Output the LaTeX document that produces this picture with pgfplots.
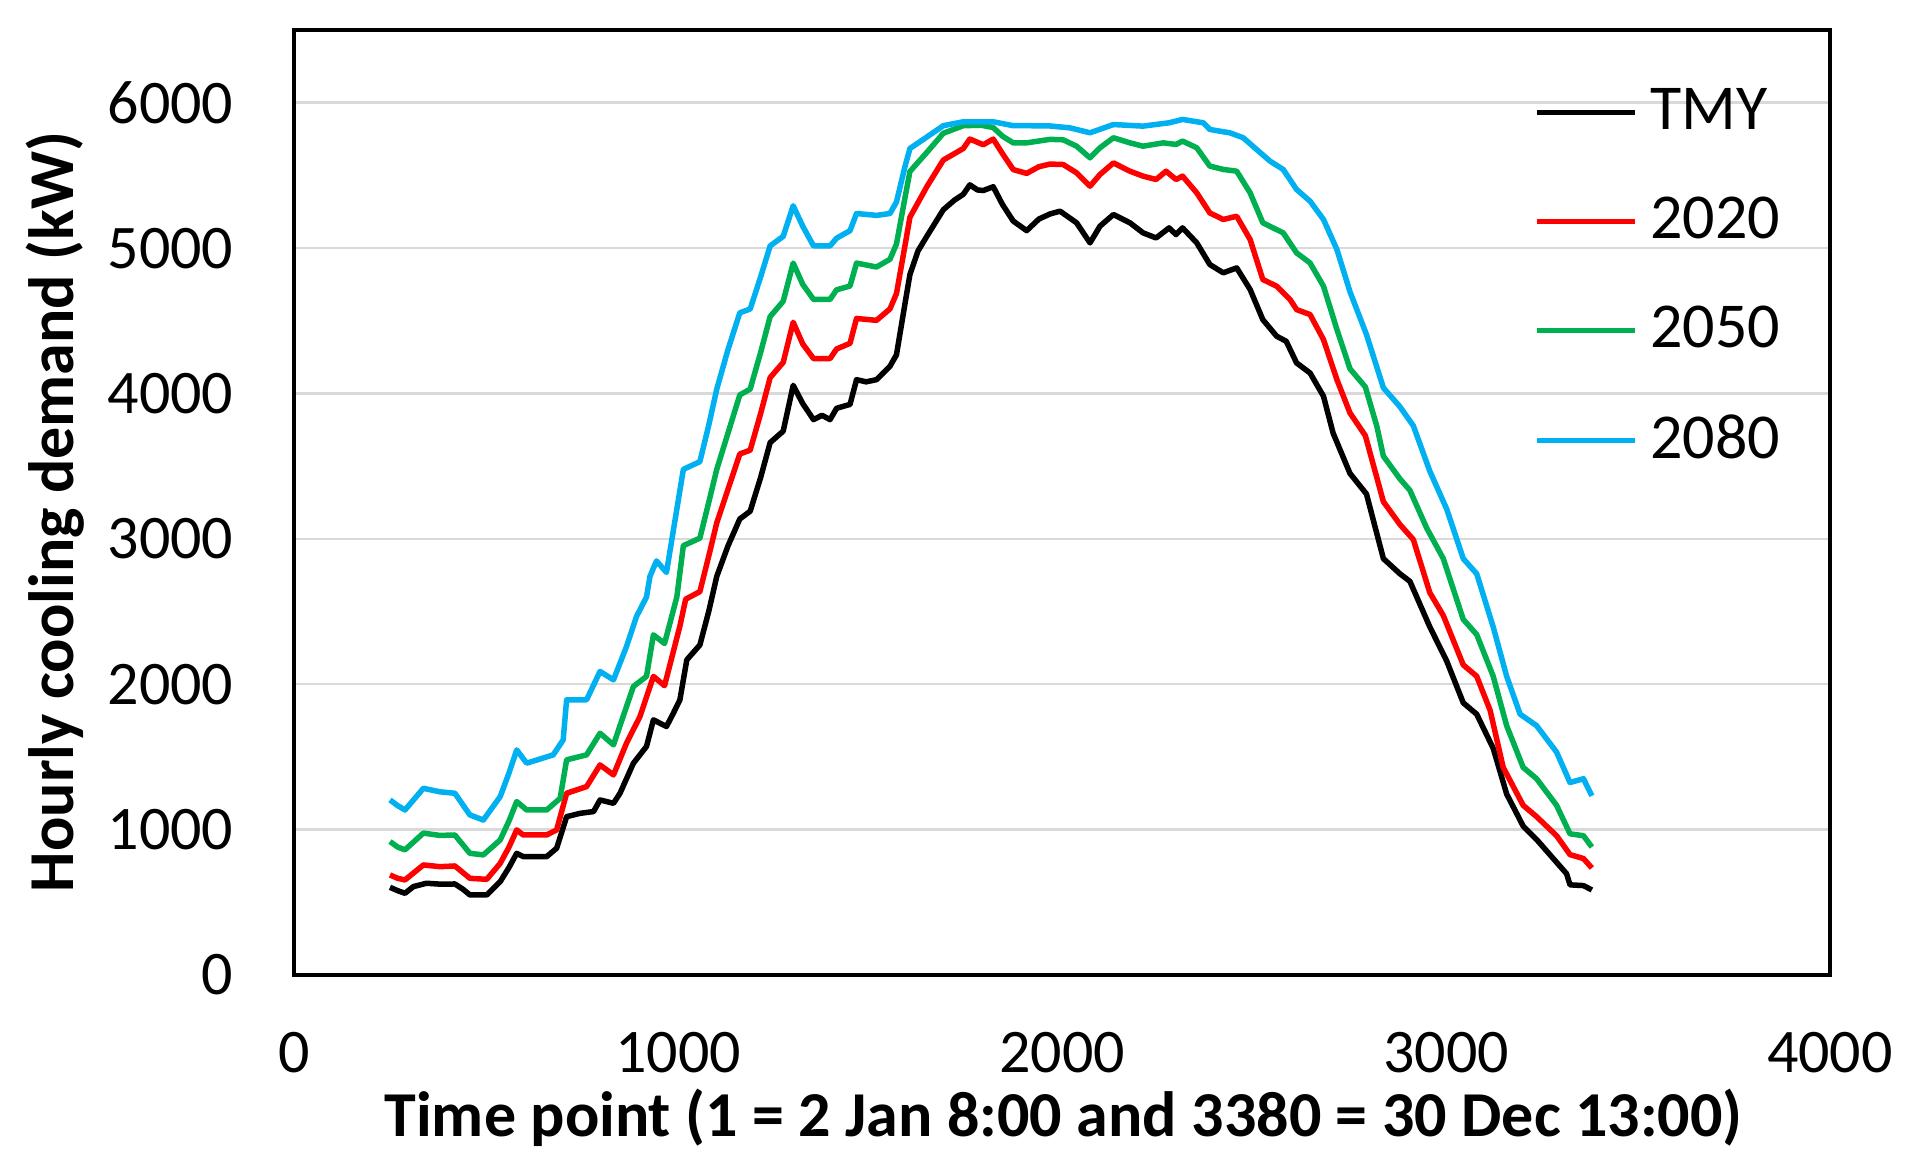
\documentclass[border=0pt]{standalone}
\usepackage{pgfplots}
\pgfplotsset{compat=1.18}
\usepackage{fontspec}
\setmainfont{Carlito}
\definecolor{cblue}{HTML}{00B0F0}
\definecolor{cgreen}{HTML}{00B050}
\definecolor{cred}{HTML}{FF0000}
\definecolor{cgrid}{HTML}{D9D9D9}
\begin{document}
\begin{tikzpicture}
\useasboundingbox (0,0) rectangle (381.4pt,233.2pt);
\begin{axis}[
  at={(58.8pt,38.2pt)}, anchor=south west,
  scale only axis, width=307.2pt, height=189pt,
  xmin=0, xmax=4000, ymin=0, ymax=6500,
  xtick={0,1000,2000,3000,4000},
  ytick={0,1000,2000,3000,4000,5000,6000},
  major tick length=0pt,
  ymajorgrids, grid style={cgrid, line width=0.5pt},
  axis line style={black, line width=0.9pt},
  /pgf/number format/assume math mode=true,
  /pgf/number format/1000 sep={},
  ticklabel style={font=\fontsize{12.4}{14}\selectfont},
  xticklabel style={yshift=-8pt},
  yticklabel style={xshift=-8.6pt},
  xlabel={\textbf{Time point (1 = 2 Jan 8:00 and 3380 = 30 Dec 13:00)}},
  ylabel={\textbf{Hourly cooling demand (kW)}},
  label style={font=\fontsize{12.8}{14}\selectfont},
  xlabel style={at={(axis description cs:0.501,-0.151)}, anchor=center},
  ylabel style={at={(axis description cs:-0.1556,0.49)}, anchor=center},
  legend style={draw=none, fill=none, inner sep=0pt,
    font=\fontsize{12.8}{14}\selectfont, row sep=8pt, column sep=0.5pt,
    at={(axis description cs:0.807,0.95)}, anchor=north west},
  legend cell align=left,
  legend image code/.code={\draw[#1] (0pt,0pt) -- (19.6pt,0pt);},
  every axis plot/.append style={line width=1.1pt, line join=round},
]
\addplot[black] coordinates {
(250,603)(270,580)(289,562)(311,608)(345,631)(380,625)(419,626)(440,590)(458,551)(502,551)
(537,642)(560,740)(580,837)(597,814)(658,814)(684,872)(710,1089)(745,1112)(780,1124)
(797,1204)(832,1181)(849,1250)(884,1457)(918,1572)(936,1755)(970,1709)(988,1801)
(1005,1893)(1023,2168)(1057,2270)(1080,2500)(1101,2742)(1130,2950)(1161,3137)(1188,3190)
(1215,3420)(1240,3662)(1274,3741)(1300,4056)(1325,3930)(1353,3820)(1375,3850)(1396,3820)
(1413,3898)(1448,3925)(1465,4095)(1490,4080)(1517,4095)(1552,4187)(1569,4266)(1590,4600)
(1604,4818)(1625,4980)(1648,5081)(1691,5264)(1720,5330)(1743,5370)(1760,5435)(1780,5400)
(1795,5396)(1821,5422)(1845,5300)(1873,5186)(1908,5120)(1940,5200)(1969,5235)(1995,5254)
(2038,5174)(2073,5036)(2099,5151)(2134,5231)(2177,5174)(2211,5105)(2245,5070)(2279,5139)
(2297,5093)(2314,5139)(2351,5036)(2385,4887)(2420,4830)(2455,4864)(2490,4715)(2523,4508)
(2559,4394)(2584,4359)(2611,4210)(2646,4141)(2681,3981)(2706,3728)(2750,3450)(2793,3308)
(2837,2864)(2880,2760)(2906,2708)(2958,2394)(3002,2159)(3045,1872)(3080,1794)(3123,1559)
(3158,1245)(3201,1024)(3236,932)(3288,775)(3314,697)(3323,620)(3358,615)(3380,585)
};
\addlegendentry{TMY}
\addplot[cred] coordinates {
(250,688)(270,665)(289,654)(337,757)(380,745)(419,750)(458,665)(502,658)(537,768)
(560,880)(580,998)(597,963)(658,963)(684,998)(710,1250)(762,1296)(797,1445)(832,1376)
(866,1595)(901,1778)(936,2054)(965,1990)(1005,2400)(1020,2585)(1057,2637)(1080,2880)
(1101,3110)(1161,3584)(1188,3610)(1215,3860)(1240,4109)(1274,4214)(1300,4490)(1325,4340)
(1353,4240)(1396,4240)(1413,4306)(1448,4345)(1465,4516)(1517,4503)(1552,4582)(1569,4687)
(1590,5000)(1604,5212)(1648,5422)(1691,5606)(1743,5685)(1760,5750)(1795,5711)(1821,5750)
(1845,5650)(1873,5540)(1908,5514)(1940,5560)(1969,5578)(2003,5575)(2038,5518)(2073,5426)
(2099,5506)(2134,5586)(2177,5529)(2211,5495)(2245,5472)(2271,5529)(2297,5472)(2314,5495)
(2351,5380)(2385,5242)(2420,5197)(2455,5219)(2490,5059)(2523,4784)(2559,4738)(2594,4646)
(2611,4577)(2646,4543)(2681,4371)(2716,4095)(2750,3866)(2790,3710)(2837,3256)(2880,3099)
(2915,2995)(2958,2629)(2993,2473)(3045,2133)(3080,2055)(3115,1820)(3149,1428)(3201,1167)
(3236,1089)(3288,958)(3323,828)(3358,801)(3380,736)
};
\addlegendentry{2020}
\addplot[cgreen] coordinates {
(250,918)(270,880)(289,861)(337,976)(380,960)(419,963)(458,837)(493,826)(537,929)
(560,1060)(580,1193)(606,1135)(658,1135)(693,1215)(710,1480)(762,1514)(797,1663)(832,1583)
(866,1847)(884,1985)(918,2054)(936,2340)(965,2280)(997,2600)(1014,2953)(1057,3005)
(1080,3250)(1101,3478)(1161,3990)(1188,4030)(1215,4280)(1240,4529)(1274,4634)(1300,4897)
(1325,4750)(1353,4647)(1396,4647)(1413,4713)(1448,4739)(1465,4897)(1517,4870)(1552,4923)
(1569,5028)(1590,5330)(1604,5527)(1648,5658)(1691,5790)(1743,5842)(1790,5845)(1821,5829)
(1845,5770)(1873,5724)(1908,5724)(1969,5748)(2003,5745)(2038,5701)(2073,5621)(2099,5690)
(2134,5759)(2177,5724)(2211,5701)(2264,5724)(2297,5713)(2314,5736)(2351,5690)(2385,5564)
(2420,5541)(2455,5529)(2490,5380)(2523,5174)(2576,5105)(2611,4967)(2646,4898)(2681,4738)
(2716,4440)(2750,4170)(2790,4045)(2820,3774)(2837,3569)(2880,3413)(2906,3334)(2950,3073)
(2993,2864)(3045,2446)(3080,2342)(3123,2055)(3158,1715)(3201,1428)(3236,1350)(3288,1167)
(3323,971)(3358,958)(3380,880)
};
\addlegendentry{2050}
\addplot[cblue] coordinates {
(250,1204)(270,1165)(289,1135)(337,1284)(380,1260)(419,1250)(458,1101)(493,1066)(537,1227)
(560,1390)(580,1548)(606,1457)(675,1514)(701,1617)(710,1893)(762,1893)(797,2088)(832,2030)
(866,2260)(892,2466)(918,2600)(927,2742)(944,2848)(970,2769)(1014,3478)(1057,3531)
(1080,3780)(1101,4030)(1130,4300)(1161,4555)(1188,4581)(1215,4800)(1240,5015)(1274,5081)
(1300,5291)(1325,5150)(1353,5015)(1396,5015)(1413,5068)(1448,5120)(1465,5238)(1517,5225)
(1552,5238)(1569,5317)(1590,5550)(1604,5685)(1648,5764)(1691,5842)(1743,5869)(1821,5869)
(1873,5842)(1908,5842)(1969,5840)(2021,5827)(2073,5793)(2134,5850)(2211,5839)(2279,5862)
(2314,5885)(2368,5862)(2385,5816)(2437,5793)(2472,5759)(2507,5678)(2542,5598)(2576,5541)
(2611,5403)(2646,5323)(2681,5197)(2716,4990)(2750,4700)(2793,4405)(2837,4039)(2880,3909)
(2915,3778)(2958,3465)(3002,3204)(3045,2864)(3080,2760)(3123,2394)(3158,2055)(3193,1794)
(3236,1715)(3288,1533)(3323,1324)(3358,1350)(3380,1232)
};
\addlegendentry{2080}
\end{axis}
\end{tikzpicture}
\end{document}
